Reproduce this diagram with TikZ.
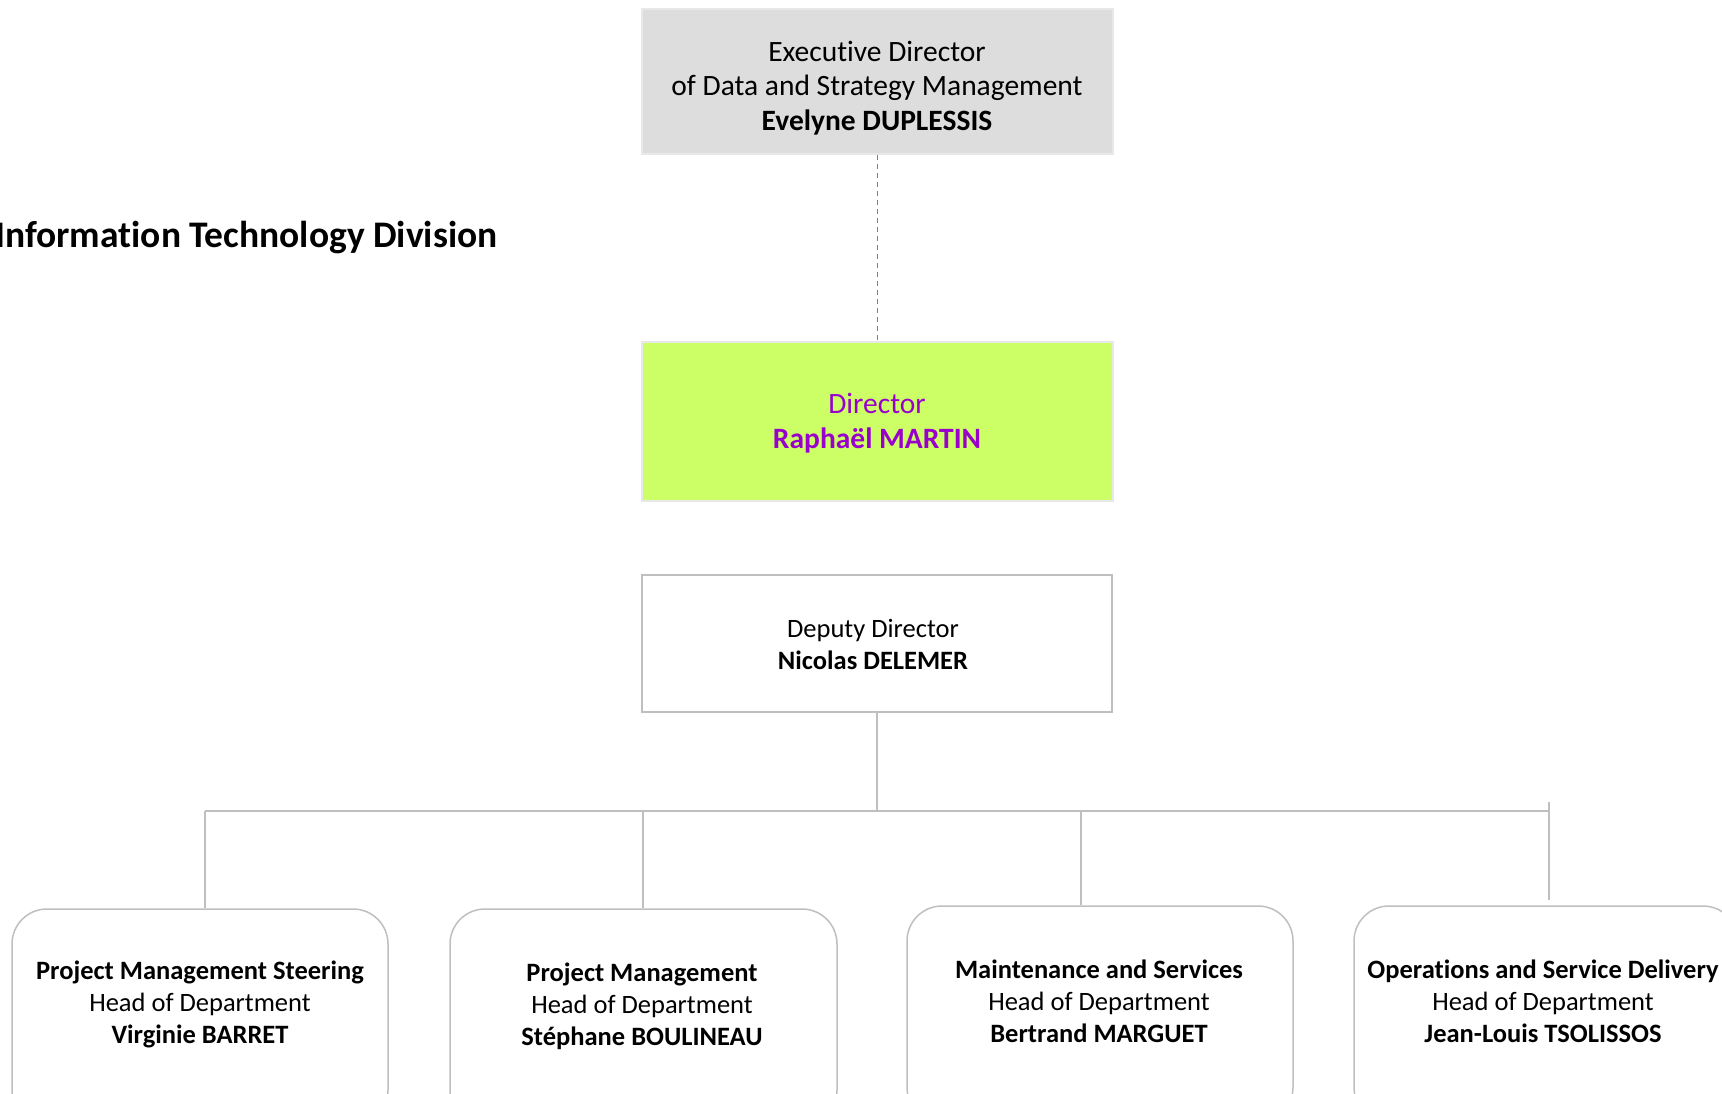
\documentclass[tikz,border=0pt]{standalone}
\usepackage{fontspec}
\setmainfont{Carlito}[Ligatures=NoCommon]
\definecolor{boxgray}{HTML}{DDDDDD}
\definecolor{boxgrayedge}{HTML}{E8E8E8}
\definecolor{lime}{HTML}{CCFF66}
\definecolor{purp}{HTML}{9900CC}
\definecolor{lineg}{HTML}{BFBFBF}
\definecolor{dashg}{HTML}{808080}
\begin{document}
\begin{tikzpicture}[x=1pt,y=-1pt,
  conn/.style={draw=lineg, line width=1.5pt},
  dashline/.style={draw=dashg, line width=1.2pt, dash pattern=on 5pt off 4pt},
  graybox/.style={rectangle, draw=boxgrayedge, fill=boxgray, line width=2pt, inner sep=0pt},
  greenbox/.style={rectangle, draw=boxgrayedge, fill=lime, line width=2pt, inner sep=0pt},
  whitebox/.style={rectangle, draw=lineg, fill=white, line width=1.5pt, inner sep=0pt},
  deptbox/.style={rectangle, rounded corners=35pt, draw=lineg, fill=white, line width=1.5pt, inner sep=0pt},
  bigtxt/.style={inner sep=0pt, align=center, font=\fontsize{29.5}{34.5}\selectfont},
  smalltxt/.style={inner sep=0pt, align=center, font=\fontsize{26.5}{32}\selectfont},
  titletxt/.style={inner sep=0pt, font=\fontsize{37.5}{44}\selectfont\bfseries}
]
\useasboundingbox (0,0) rectangle (1722,1093);
\clip (0,0) rectangle (1722,1093);
\fill[white] (0,0) rectangle (1722,1093);

% title
\node[titletxt, anchor=base west] (title) at (-5,247) {Information Technology Division};

% boxes
\node[graybox, minimum width=471pt, minimum height=145pt] (exec) at (877.5,81) {};
\node[greenbox, minimum width=471pt, minimum height=159pt] (dir) at (877.5,421.5) {};
\node[whitebox, minimum width=470pt, minimum height=137pt] (dep) at (877,643.5) {};

\node[deptbox, minimum width=376pt, minimum height=216pt] (b1) at (200,1017) {};
\node[deptbox, minimum width=387pt, minimum height=216pt] (b2) at (643.5,1017) {};
\node[deptbox, minimum width=386pt, minimum height=216pt] (b3) at (1100,1014) {};
\node[deptbox, minimum width=384pt, minimum height=216pt] (b4) at (1546,1014) {};

% texts (anchor base = baseline of last line)
\node[bigtxt, anchor=base] (exect) at (877,130) {Executive Director\\of Data and Strategy Management\\\textbf{Evelyne DUPLESSIS}};
\node[bigtxt, anchor=base, text=purp] (dirt) at (877,448) {Director\\\textbf{Raphaël MARTIN}};
\node[smalltxt, anchor=base] (dept) at (873,669) {Deputy Director\\\textbf{Nicolas DELEMER}};

\node[smalltxt, anchor=base] (t1) at (200,1043) {\textbf{Project Management Steering}\\Head of Department\\\textbf{Virginie BARRET}};
\node[smalltxt, anchor=base] (t2) at (642,1045) {\textbf{Project Management}\\Head of Department\\\textbf{Stéphane BOULINEAU}};
\node[smalltxt, anchor=base] (t3) at (1099,1042) {\textbf{Maintenance and Services}\\Head of Department\\\textbf{Bertrand MARGUET}};
\node[smalltxt, anchor=base] (t4) at (1543,1042) {\textbf{Operations and Service Delivery}\\Head of Department\\\textbf{Jean-Louis TSOLISSOS}};

% connectors
\draw[dashline] (exec.south) -- (dir.north);
\coordinate (hub) at (877,811);
\coordinate (br1) at (205,811);
\coordinate (br2) at (643,811);
\coordinate (br3) at (1081,811);
\coordinate (br4) at (1549,811);
\coordinate (br4top) at (1549,802);
\coordinate (br4end) at (1549,900);
\draw[conn] (dep.south) -- (hub);
\draw[conn] (br1) -- (br4);
\draw[conn] (br1) -- (br1 |- b1.north);
\draw[conn] (br2) -- (br2 |- b2.north);
\draw[conn] (br3) -- (br3 |- b3.north);
\draw[conn] (br4top) -- (br4end);
\end{tikzpicture}
\end{document}
